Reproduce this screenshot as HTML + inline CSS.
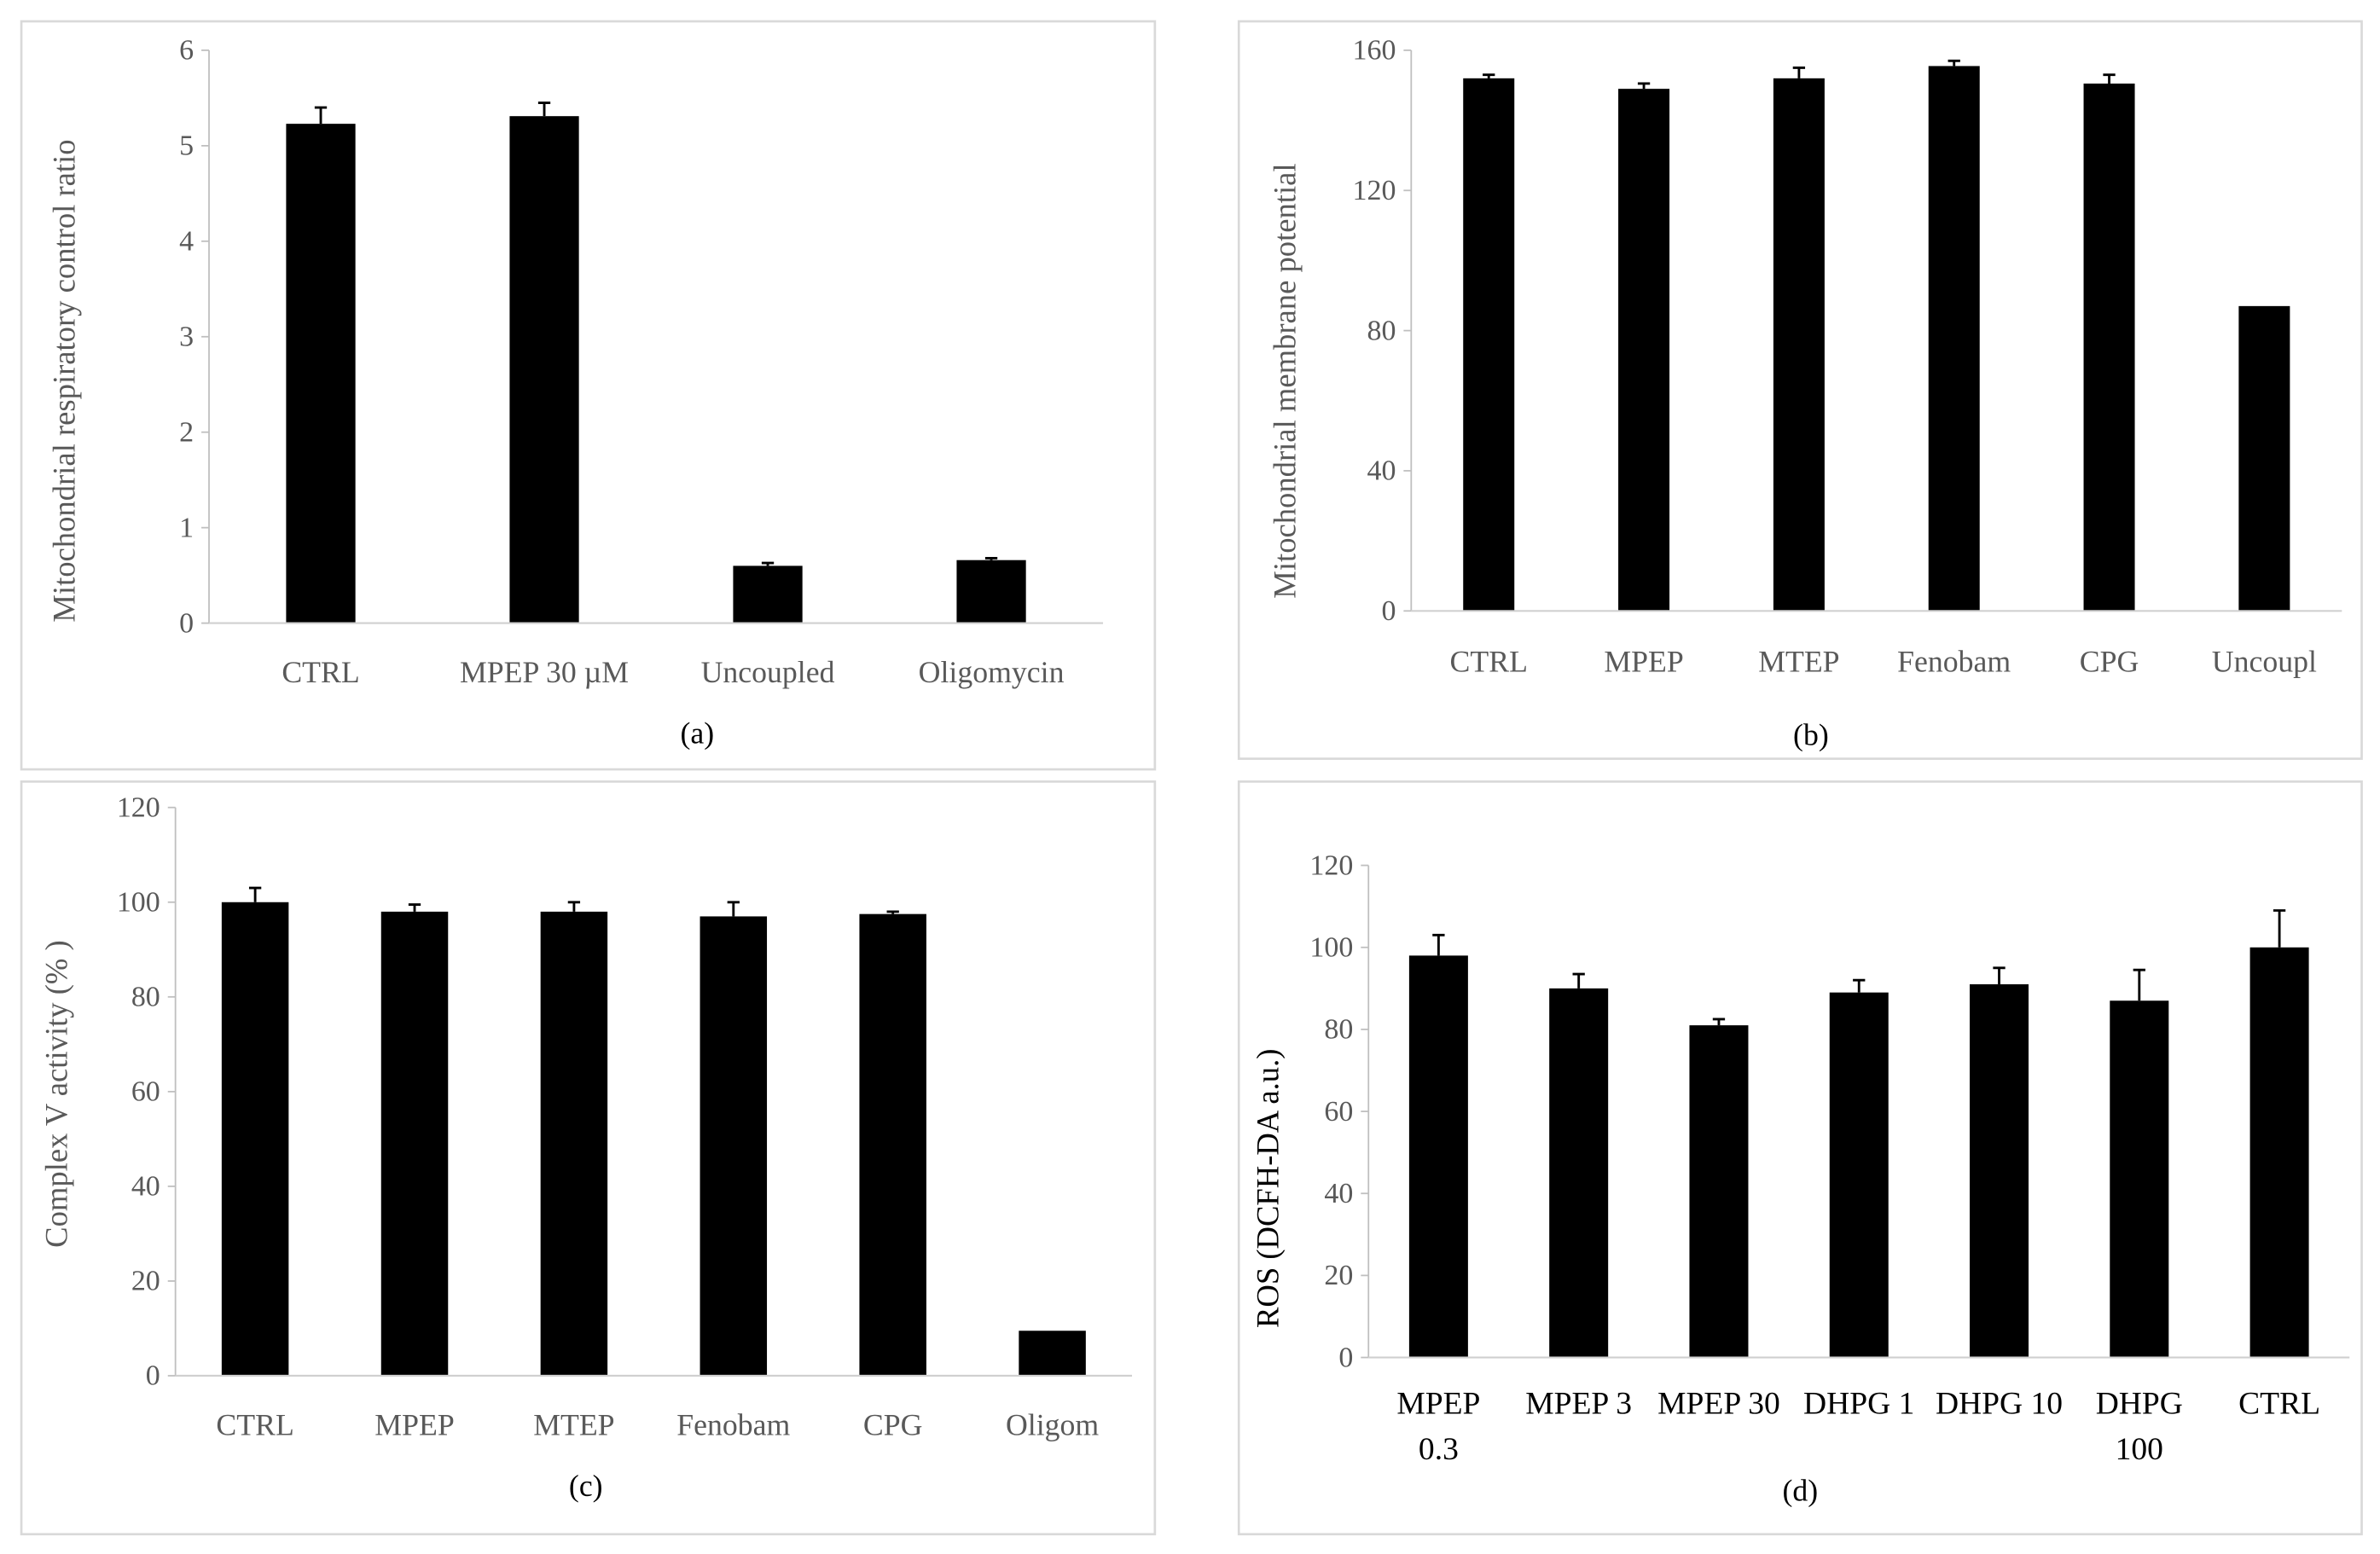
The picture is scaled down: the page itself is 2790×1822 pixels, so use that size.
<!DOCTYPE html>
<html><head><meta charset="utf-8"><style>
html,body{margin:0;padding:0;background:#fff;}
svg{display:block;}
text{font-family:"Liberation Serif",serif;}
</style></head><body>
<svg id="fig" width="2790" height="1822" viewBox="0 0 1560 1020" preserveAspectRatio="none" xmlns="http://www.w3.org/2000/svg"></svg>
<script>
// Panel (a)
const catsA = ["CTRL", "MPEP 30 µM", "Uncoupled", "Oligomycin"];
const valsA = [5.23, 5.31, 0.60, 0.66];
const errA = [0.17, 0.14, 0.03, 0.02];
const ticksA = [0, 1, 2, 3, 4, 5, 6];
// Panel (b)
const catsB = ["CTRL", "MPEP", "MTEP", "Fenobam", "CPG", "Uncoupl"];
const valsB = [152, 149, 152, 155.5, 150.5, 87];
const errB = [1, 1.5, 3, 1.5, 2.5, 0];
const ticksB = [0, 40, 80, 120, 160];
// Panel (c)
const catsC = ["CTRL", "MPEP", "MTEP", "Fenobam", "CPG", "Oligom"];
const valsC = [100, 98, 98, 97, 97.5, 9.5];
const errC = [3, 1.5, 2, 3, 0.5, 0];
const ticksC = [0, 20, 40, 60, 80, 100, 120];
// Panel (d)
const catsD = ["MPEP|0.3", "MPEP 3", "MPEP 30", "DHPG 1", "DHPG 10", "DHPG|100", "CTRL"];
const valsD = [98, 90, 81, 89, 91, 87, 100];
const errD = [5, 3.5, 1.5, 3, 4, 7.5, 9];
const ticksD = [0, 20, 40, 60, 80, 100, 120];

const NS = "http://www.w3.org/2000/svg";
const svg = document.getElementById('fig');
function mk(tag, attrs, parent, txt){
  const e = document.createElementNS(NS, tag);
  for (const k in attrs) e.setAttribute(k, attrs[k]);
  if (txt !== undefined) e.textContent = txt;
  (parent || svg).appendChild(e);
  return e;
}
function panel(cfg){
  const g = mk('g', {});
  
  
  const box = mk('rect', {x:cfg.box[0], y:cfg.box[1], width:cfg.box[2], height:cfg.box[3], fill:'none', stroke:'#d9d9d9', 'stroke-width':1.5}, g);
  
  
  const maxT = cfg.ticks[cfg.ticks.length-1];
  const yS = v => cfg.y0 - (v / maxT) * (cfg.y0 - cfg.yTop);
  const n = cfg.cats.length;
  const cw = (cfg.xEnd - cfg.x0) / n;
  const xS = i => cfg.x0 + cw * (i + 0.5);
  const bw = cw * cfg.bwFrac;
  const ya = mk('line', {x1:cfg.x0, y1:cfg.yTop, x2:cfg.x0, y2:cfg.y0, stroke:'#bfbfbf', 'stroke-width':1}, g);
  
  
  cfg.ticks.forEach(t => {
    mk('line', {x1:cfg.x0-5, y1:yS(t), x2:cfg.x0, y2:yS(t), stroke:'#bfbfbf', 'stroke-width':1}, g);
    const tl = mk('text', {x:cfg.x0-10, y:yS(t)+6, 'text-anchor':'end', 'font-size':19, fill:'#595959'}, g, String(t));
    
    
  });
  cfg.cats.forEach((c, i) => {
    const v = cfg.vals[i], e = cfg.errs[i];
    const b = mk('rect', {x:xS(i)-bw/2, y:yS(v), width:bw, height:cfg.y0-yS(v), fill:'#000'}, g);
    
    
    if (e > 0) {
      const eb = mk('path', {d:`M${xS(i)},${yS(v)} V${yS(v+e)} M${xS(i)-4},${yS(v+e)} H${xS(i)+4}`, stroke:'#000', 'stroke-width':1.6, fill:'none'}, g);
      
      
    }
    const lines = c.split('|');
    lines.forEach((ln, k) => {
      const tl = mk('text', {x:xS(i), y:cfg.labelY + k*30, 'text-anchor':'middle', 'font-size':cfg.labelSize, fill:cfg.labelColor}, g, ln);
      
      
    });
  });
  const xa = mk('line', {x1:cfg.x0, y1:cfg.y0, x2:cfg.xEnd, y2:cfg.y0, stroke:'#d0d0d0', 'stroke-width':1.2}, g);
  
  
  const yt = mk('text', {x:0, y:0, transform:`translate(${cfg.titleX},${cfg.titleY}) rotate(-90)`, 'text-anchor':'middle', 'font-size':20.5, fill:cfg.titleColor}, g, cfg.title);
  
  
  const cap = mk('text', {x:cfg.capX, y:cfg.capY, 'text-anchor':'middle', 'font-size':20, fill:'#000'}, g, '(' + cfg.id + ')');
  
  
}
panel({id:'a', box:[14,14,743,491], cats:catsA, vals:valsA, errs:errA, ticks:ticksA,
  x0:137, xEnd:723, y0:409, yTop:33, bwFrac:0.31, labelY:448, labelSize:20, labelColor:'#595959',
  title:'Mitochondrial respiratory control ratio', titleX:49, titleY:250, titleColor:'#595959', capX:457, capY:488});
panel({id:'b', box:[812,14,736,484], cats:catsB, vals:valsB, errs:errB, ticks:ticksB,
  x0:925, xEnd:1535, y0:401, yTop:33, bwFrac:0.33, labelY:441, labelSize:20, labelColor:'#595959',
  title:'Mitochondrial membrane potential', titleX:849, titleY:250, titleColor:'#595959', capX:1187, capY:489});
panel({id:'c', box:[14,513,743,494], cats:catsC, vals:valsC, errs:errC, ticks:ticksC,
  x0:115, xEnd:742, y0:903, yTop:530, bwFrac:0.42, labelY:942, labelSize:20, labelColor:'#595959',
  title:'Complex V activity (% )', titleX:44, titleY:718, titleColor:'#595959', capX:384, capY:982});
panel({id:'d', box:[812,513,736,494], cats:catsD, vals:valsD, errs:errD, ticks:ticksD,
  x0:897, xEnd:1540, y0:891, yTop:568, bwFrac:0.42, labelY:928, labelSize:21, labelColor:'#000',
  title:'ROS (DCFH-DA  a.u.)', titleX:838, titleY:780, titleColor:'#000', capX:1180, capY:985});
</script>
</body></html>
